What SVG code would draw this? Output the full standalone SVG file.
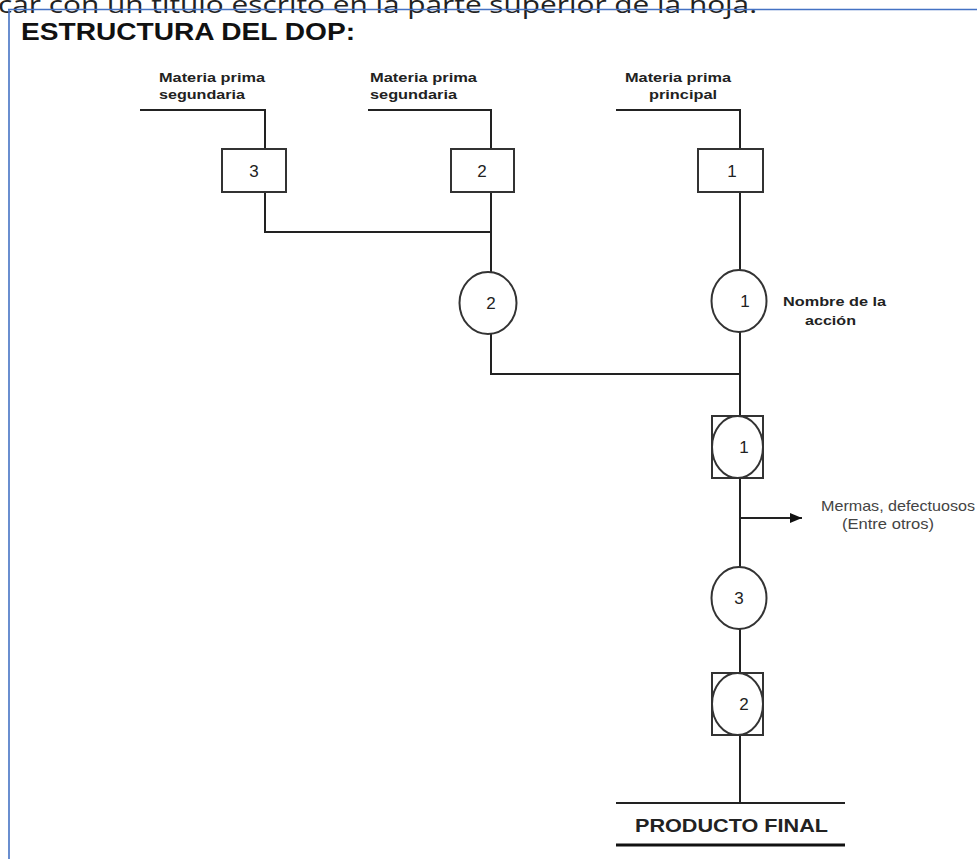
<svg xmlns="http://www.w3.org/2000/svg" width="977" height="859" viewBox="0 0 977 859">
<style>
.ln{stroke:#222;stroke-width:2;fill:none}
.sh{stroke:#333;stroke-width:2;fill:#fff}
.lbl{font-family:"Liberation Sans",Arial,sans-serif;font-weight:bold;font-size:12.5px;fill:#222}
.num{font-family:"Liberation Sans",Arial,sans-serif;font-size:17px;fill:#222;text-anchor:middle}
.note{font-family:"Liberation Sans",Arial,sans-serif;font-size:14.5px;fill:#444}
.blue{stroke:#4472C4;stroke-width:1.6;fill:none}
</style>
<defs>
<marker id="arr" viewBox="0 0 12 10" refX="12" refY="5" markerWidth="12" markerHeight="10" markerUnits="userSpaceOnUse" orient="auto">
<path d="M0,0 L12,5 L0,10 Z" fill="#111"/>
</marker>
</defs>
<rect width="977" height="859" fill="#fff"/>
<text x="-2" y="13" font-family="'Open Sans',sans-serif" font-size="23" fill="#222" textLength="759" lengthAdjust="spacingAndGlyphs">car con un título escrito en la parte superior de la hoja.</text>
<g id="border">
<line class="blue" x1="8" y1="9.5" x2="977" y2="9.5"/>
<line class="blue" x1="9" y1="9" x2="9" y2="859"/>
</g>
<text x="21" y="39.5" font-family="'Liberation Sans',Arial,sans-serif" font-weight="bold" font-size="23" fill="#111" textLength="334" lengthAdjust="spacingAndGlyphs">ESTRUCTURA DEL DOP:</text>

<g id="connectors">
<polyline class="ln" points="140,110 265,110 265,149"/>
<polyline class="ln" points="368,110 491,110 491,149"/>
<polyline class="ln" points="616,110 740,110 740,149"/>
<polyline class="ln" points="265,192 265,232 491,232"/>
<line class="ln" x1="491" y1="192" x2="491" y2="272"/>
<line class="ln" x1="740" y1="192" x2="740" y2="270"/>
<polyline class="ln" points="491,334 491,374 740,374"/>
<line class="ln" x1="740" y1="332" x2="740" y2="416"/>
<line class="ln" x1="740" y1="478" x2="740" y2="567"/>
<line class="ln" x1="740" y1="518" x2="802" y2="518" marker-end="url(#arr)"/>
<line class="ln" x1="740" y1="629" x2="740" y2="673"/>
<line class="ln" x1="740" y1="735" x2="740" y2="803"/>
</g>

<g id="label-mp3">
<text class="lbl" x="159" y="82" textLength="106" lengthAdjust="spacingAndGlyphs">Materia prima</text>
<text class="lbl" x="159" y="99" textLength="86" lengthAdjust="spacingAndGlyphs">segundaria</text>
</g>
<g id="label-mp2">
<text class="lbl" x="370" y="82" textLength="107" lengthAdjust="spacingAndGlyphs">Materia prima</text>
<text class="lbl" x="370" y="99" textLength="87" lengthAdjust="spacingAndGlyphs">segundaria</text>
</g>
<g id="label-mp1">
<text class="lbl" x="625" y="82" textLength="106" lengthAdjust="spacingAndGlyphs">Materia prima</text>
<text class="lbl" x="649" y="99" textLength="68" lengthAdjust="spacingAndGlyphs">principal</text>
</g>

<g id="insp3">
<rect class="sh" x="222" y="149" width="64" height="43"/>
<text class="num" x="254" y="177">3</text>
</g>
<g id="insp2">
<rect class="sh" x="451" y="149" width="63" height="43"/>
<text class="num" x="482" y="177">2</text>
</g>
<g id="insp1">
<rect class="sh" x="698" y="149" width="65" height="43"/>
<text class="num" x="732" y="177">1</text>
</g>

<g id="op2">
<ellipse class="sh" cx="488" cy="303" rx="28.5" ry="31"/>
<text class="num" x="491" y="309">2</text>
</g>
<g id="op1">
<ellipse class="sh" cx="739" cy="301" rx="27.5" ry="31"/>
<text class="num" x="745" y="307">1</text>
<text class="lbl" x="783" y="306" textLength="103" lengthAdjust="spacingAndGlyphs">Nombre de la</text>
<text class="lbl" x="805" y="325" textLength="51" lengthAdjust="spacingAndGlyphs">acción</text>
</g>

<g id="comb1">
<rect class="sh" x="712" y="416" width="51" height="62"/>
<ellipse class="sh" cx="737.5" cy="447" rx="25.5" ry="31"/>
<text class="num" x="744" y="453">1</text>
</g>

<g id="merma">
<text class="note" x="821" y="511" textLength="154" lengthAdjust="spacingAndGlyphs">Mermas, defectuosos</text>
<text class="note" x="842" y="529" textLength="92" lengthAdjust="spacingAndGlyphs">(Entre otros)</text>
</g>

<g id="op3">
<ellipse class="sh" cx="739" cy="598" rx="27.5" ry="31"/>
<text class="num" x="739" y="604">3</text>
</g>

<g id="comb2">
<rect class="sh" x="712" y="673" width="51" height="62"/>
<ellipse class="sh" cx="737.5" cy="704" rx="25.5" ry="31"/>
<text class="num" x="744" y="710">2</text>
</g>

<g id="producto-final">
<line x1="616" y1="803" x2="845" y2="803" stroke="#222" stroke-width="2"/>
<text x="635" y="832" font-family="'Liberation Sans',Arial,sans-serif" font-weight="bold" font-size="19" fill="#222" textLength="193" lengthAdjust="spacingAndGlyphs">PRODUCTO FINAL</text>
<line x1="616" y1="845" x2="845" y2="845" stroke="#111" stroke-width="3"/>
</g>
</svg>
